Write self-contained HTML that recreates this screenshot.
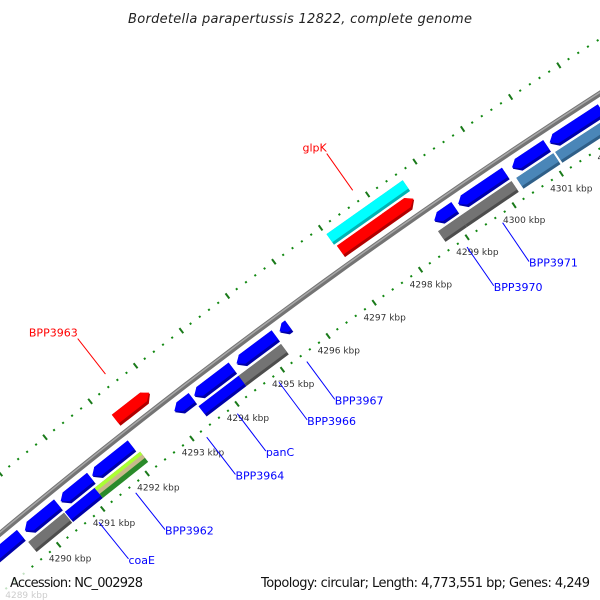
<!DOCTYPE html>
<html><head><meta charset="utf-8"><style>
html,body{margin:0;padding:0;background:#fff;width:600px;height:600px;overflow:hidden}
svg{display:block;font-family:"DejaVu Sans","Liberation Sans",sans-serif;overflow:hidden}
</style></head><body>
<svg id="chart" width="600" height="600" viewBox="0 0 600 600" xmlns="http://www.w3.org/2000/svg">
<rect width="600" height="600" fill="#fff"/>
<g id="ticks"></g>
<g id="backbone"></g>
<g id="genes"></g>
<g id="labels"></g>
<text x="300" y="23" text-anchor="middle" font-size="13" font-style="italic" fill="#222" textLength="344">Bordetella parapertussis 12822, complete genome</text>
<rect x="0" y="570" width="600" height="30" fill="#fff" fill-opacity="0.75"/>
<text x="10" y="587" font-size="13" fill="#111" textLength="133">Accession: NC_002928</text>
<text x="590" y="587" text-anchor="end" font-size="13" fill="#111" textLength="329">Topology: circular; Length: 4,773,551 bp; Genes: 4,249</text>
</svg>
<script>
// ---- data ----
const tickKbp = [4286,4287,4288,4289,4290,4291,4292,4293,4294,4295,4296,4297,4298,4299,4300,4301,4302,4303,4304,4305];
const tickLabels = ["4286 kbp","4287 kbp","4288 kbp","4289 kbp","4290 kbp","4291 kbp","4292 kbp","4293 kbp","4294 kbp","4295 kbp","4296 kbp","4297 kbp","4298 kbp","4299 kbp","4300 kbp","4301 kbp","4302 kbp","4303 kbp","4304 kbp","4305 kbp"];
const geneStart = [4288.3,4289.7,4290.51,4291.22,4293.05,4293.49,4294.42,4295.36,4298.69,4299.2,4300.34,4301.13,4302.25,
                   4289.62,4290.45,4291.12,4293.44,4294.32,4298.64,4299.1,4300.3,4301.12,
                   4292.15,4297.05,4297.02];
const geneEnd   = [4289.6,4290.44,4291.18,4292.09,4293.44,4294.32,4295.26,4295.55,4299.12,4300.19,4301.06,4302.2,4303.3,
                   4290.43,4291.12,4292.14,4294.32,4295.25,4299.1,4300.2,4301.08,4302.7,
                   4292.9,4298.61,4298.64];
const geneStrand = [-1,-1,-1,-1,-1,-1,-1,-1,-1,-1,-1,-1,-1,
                    0,0,0,0,0,0,0,0,0,
                    1,1,0];
const geneRow = [-1,-1,-1,-1,-1,-1,-1,-1,-1,-1,-1,-1,-1,
                 -2,-2,-2,-2,-2,-2,-2,-2,-2,
                 1,1,2];
const geneType = ["cds","cds","cds","cds","cds","cds","cds","cds","cds","cds","cds","cds","cds",
                  "gray","blue","lime","blue","gray","gray","gray","steel","steel",
                  "red","red","cyan"];
const labelNames = ["coaE","BPP3962","BPP3964","panC","BPP3966","BPP3967","BPP3970","BPP3971","BPP3963","glpK"];
const labelKbp = [4290.8,4291.63,4293.22,4293.9,4294.82,4295.43,4298.9,4299.66,4292.5,4297.83];
const labelSide = [-1,-1,-1,-1,-1,-1,-1,-1,1,1];

// ---- geometry ----
const CX=3920, CY=5249, R0=6132, RTI=6086, RTO=6178;
const TH0=-129.38*Math.PI/180, K=0.535*Math.PI/180;
function pt(kbp,r){const t=TH0+(kbp-4290)*K;return [CX+r*Math.cos(t),CY+r*Math.sin(t)];}
const NS="http://www.w3.org/2000/svg";
function mk(tag,attrs,parent){const e=document.createElementNS(NS,tag);for(const k in attrs)e.setAttribute(k,attrs[k]);parent.appendChild(e);return e;}
function ps(a){return a.map(p=>p[0].toFixed(1)+","+p[1].toFixed(1)).join(" ");}

// backbone
const bb=document.getElementById('backbone');
{const a=[];for(let k=4284;k<=4308;k+=0.5)a.push(pt(k,R0));
 const l1=mk('polyline',{points:ps(a),fill:'none',stroke:'#747474','stroke-width':5.5},bb);
 
 
 const b=[];for(let k=4284;k<=4308;k+=0.5)b.push(pt(k,R0+1));
 const l2=mk('polyline',{points:ps(b),fill:'none',stroke:'#a8a8a8','stroke-width':1.5},bb);
 
 }

// ticks
const tg=document.getElementById('ticks');
for(let k=4284;k<=4308.001;k+=0.2){
  const major=Math.abs(k-Math.round(k))<0.01;
  for(const R of [RTI,RTO]){
    const hl=major?3.2:1;
    const p1=pt(k,R-hl),p2=pt(k,R+hl);
    const ln=mk('line',{x1:p1[0],y1:p1[1],x2:p2[0],y2:p2[1],stroke:major?'#1a7a1a':'#118811','stroke-width':2},tg);
    
    
  }
}
tickKbp.forEach((k,i)=>{
  const p=pt(k,RTI-18);
  const t=mk('text',{x:p[0],y:p[1]+3,'text-anchor':'middle','font-size':9,fill:'#333'},tg);
  t.textContent=tickLabels[i];
  
  
});

// genes
const colors={cds:['#0000ff','#0000a8'],gray:['#737373','#4d4d4d'],blue:['#0000ff','#0000a8'],steel:['#4a86b8','#2f5f88'],red:['#ff0000','#b00000'],cyan:['#00ffff','#00b4b4'],lime:['#b5f032','#2a8a2a']};
const rowR={'-1':R0-15,'-2':R0-31,'1':R0+15,'2':R0+31};
const gg=document.getElementById('genes');
function shape(s,e,rc,h,strand,rIn){
  const rpx=rc*K, hd=Math.min(7/rpx,(e-s)*0.6);
  if(strand<0) return [pt(s,(rc+h+rIn)/2),pt(s+hd,rc+h),pt(e,rc+h),pt(e,rIn),pt(s+hd,rIn)];
  if(strand>0) return [pt(s,rc+h),pt(e-hd,rc+h),pt(e,(rc+h+rIn)/2),pt(e-hd,rIn),pt(s,rIn)];
  return [pt(s,rc+h),pt(e,rc+h),pt(e,rIn),pt(s,rIn)];
}
geneStart.forEach((s,i)=>{
  const e=geneEnd[i], rc=rowR[String(geneRow[i])], h=Math.abs(geneRow[i])==1?7:6.5, st=geneStrand[i];
  const c=colors[geneType[i]];
  const g=mk('g',{},gg);
  
  
  mk('polygon',{points:ps(shape(s,e,rc,h,st,rc-h)),fill:c[1]},g);
  if(geneType[i]==='lime'){
    mk('polygon',{points:ps(shape(s,e,rc,h,st,rc-h*0.2)),fill:'#c8b98a'},g);
    mk('polygon',{points:ps(shape(s,e,rc,h,st,rc+h*0.45)),fill:'#aaff33'},g);
  } else {
    mk('polygon',{points:ps(shape(s,e,rc,h,st,rc-h+3)),fill:c[0]},g);
  }
});

// labels
const lg=document.getElementById('labels');
labelNames.forEach((n,i)=>{
  const side=labelSide[i];
  let a,b;
  if(side<0){a=pt(labelKbp[i],RTI-8);b=pt(labelKbp[i],RTI-55);}
  else{a=pt(labelKbp[i],RTO+12);b=pt(labelKbp[i],RTO+57);}
  const col=side<0?'#0000ff':'#ff0000';
  const ln=mk('line',{x1:a[0],y1:a[1],x2:b[0],y2:b[1],stroke:col,'stroke-width':1},lg);
  
  
  const t=side<0?mk('text',{x:b[0],y:b[1]+5,'font-size':11,fill:col},lg)
               :mk('text',{x:b[0],y:b[1]-2,'font-size':11,fill:col,'text-anchor':'end'},lg);
  t.textContent=n;
  
  
});
</script>
</body></html>
